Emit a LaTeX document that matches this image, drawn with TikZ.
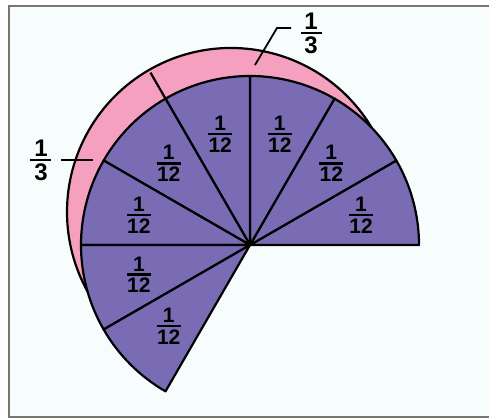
\documentclass[tikz,border=0pt]{standalone}
\usepackage{amsmath}
\usepackage{fontspec}
\setmainfont{Liberation Sans}
\usepackage{xcolor}
\usepackage{tikz}
\definecolor{slicepurple}{RGB}{122,108,180}
\definecolor{bandpink}{RGB}{244,160,190}
\definecolor{paperblue}{RGB}{247,253,253}
\definecolor{framegray}{RGB}{125,119,107}
\newcommand{\piece}[3]{\(\genfrac{}{}{2.4pt}{1}{\mbox{#2}}{\makebox[#1]{#3}}\)}

\begin{document}
\begin{tikzpicture}[x=1pt, y=1pt,
  slice/.style={fill=slicepurple, draw=black, line width=2.2pt, line join=round},
  leader/.style={draw=black, line width=1.8pt},
  twelfth/.style={font=\fontsize{21}{24}\selectfont\bfseries, inner sep=0pt},
  third/.style={font=\fontsize{24}{28}\selectfont\bfseries, inner sep=8pt}]
\useasboundingbox (-250,-174) rectangle (239,245);
\fill[white] (-250,-174) rectangle (239,245);
\fill[paperblue] (-241,-172) rectangle (239,239.2);
\draw[framegray, line width=2pt] (239,239.2) -- (-241,239.2) -- (-241,-172) -- (239,-172);
% pink two thirds, partly hidden
\fill[bandpink] (-19,33) -- ++(0:164) arc[start angle=0, end angle=240, radius=164] -- cycle;
\draw[line width=2.2pt] (-19,33) ++(30:164) arc[start angle=30, end angle=225, radius=164];
\draw[line width=2.2pt] (120:165) -- (120:199);
% purple twelfths
\foreach \a in {0,30,...,210}
  \draw[slice] (0,0) -- (\a:169) arc[start angle=\a, end angle=\a+30, radius=169] -- cycle;
\foreach \a [count=\i] in {15,45,...,225}
  \node[twelfth] (twelfth\i) at (\a:115) {\piece{24pt}{1}{12}};
% labels for the thirds
\node[third] (thirdtop) at (61,212) {\piece{21pt}{1}{3}};
\node[third] (thirdleft) at (-209,85) {\piece{21pt}{1}{3}};
\coordinate (ringtop) at (5,180);
\coordinate (bendtop) at (27,217);
\coordinate (ringleft) at (-157,86);
\draw[leader] (ringtop) -- (bendtop) -- (bendtop -| thirdtop.west);
\draw[leader] (thirdleft.east) -- (thirdleft.east -| ringleft);
\end{tikzpicture}
\end{document}
